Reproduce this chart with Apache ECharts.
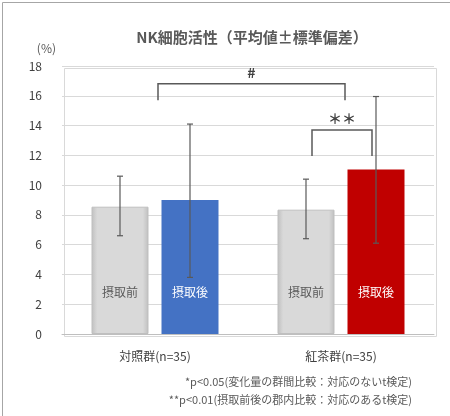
<!DOCTYPE html>
<html><head><meta charset="utf-8">
<script src="https://cdn.jsdelivr.net/npm/echarts@6/dist/echarts.min.js"></script>
<style>html,body{margin:0;padding:0;background:#fff}#c{width:450px;height:416px}</style>
</head><body><div id="c"></div>
<script>
const categories = ['対照群(n=35)', '紅茶群(n=35)'];
const beforeMean = [8.55, 8.35];
const afterMean = [9.0, 11.05];
const beforeLow = [6.6, 6.4], beforeHigh = [10.6, 10.4];
const afterLow = [3.8, 6.1], afterHigh = [14.1, 15.95];
const yTicks = [0, 2, 4, 6, 8, 10, 12, 14, 16, 18];
const afterColors = ['#4472c4', '#c00000'];
const F = '"Noto Sans CJK JP", "Noto Sans", sans-serif';

const chart = echarts.init(document.getElementById('c'));
const barW = 57, gapPx = 13, off = (barW + gapPx) / 2;

function errItem(dir) {
  return function (params, api) {
    const i = api.value(0);
    const lo = api.coord([i, api.value(1)]);
    const hi = api.coord([i, api.value(2)]);
    const x = lo[0] + dir * off;
    const st = { stroke: '#595959', lineWidth: 1.2 };
    return { type: 'group', children: [
      { type: 'line', shape: { x1: x, y1: lo[1], x2: x, y2: hi[1] }, style: st },
      { type: 'line', shape: { x1: x - 3, y1: hi[1], x2: x + 3, y2: hi[1] }, style: st },
      { type: 'line', shape: { x1: x - 3, y1: lo[1], x2: x + 3, y2: lo[1] }, style: st }
    ]};
  };
}
const grayBar = new echarts.graphic.LinearGradient(0, 0, 1, 0, [
  { offset: 0, color: '#bfbfbf' }, { offset: 0.1, color: '#d9d9d9' }, { offset: 0.9, color: '#d9d9d9' }, { offset: 1, color: '#bfbfbf' }]);

chart.setOption({
  animation: false,
  title: { text: 'NK細胞活性（平均値±標準偏差）', left: 247, top: 25, textAlign: 'center',
    textStyle: { fontFamily: F, fontSize: 15, fontWeight: 'bold', color: '#595959' } },
  grid: { left: 62, right: 16, top: 66, bottom: 82 },
  xAxis: { type: 'category', data: categories,
    axisLine: { lineStyle: { color: '#bfbfbf' } }, axisTick: { show: false },
    axisLabel: { fontFamily: F, fontSize: 12, color: '#404040', margin: 16 } },
  yAxis: { type: 'value', min: 0, max: 18, interval: 2,
    name: '(%)', nameLocation: 'end', nameGap: 12, nameTextStyle: { fontFamily: F, fontSize: 12, color: '#595959', align: 'right', padding: [0, 6, 0, 0] },
    axisLabel: { fontFamily: F, fontSize: 12, color: '#404040', margin: 20 },
    axisLine: { show: false }, axisTick: { show: false },
    splitLine: { lineStyle: { color: '#d9d9d9' } } },
  series: [
    { type: 'bar', barWidth: barW, barGap: (gapPx / barW * 100) + '%',
      data: beforeMean.map(v => ({ value: v, itemStyle: { color: grayBar, borderColor: '#bfbfbf', borderWidth: 1 } })),
      label: { show: true, position: 'insideBottom', distance: 36, formatter: '摂取前', fontFamily: F, fontSize: 12, color: '#595959' } },
    { type: 'bar', barWidth: barW,
      data: afterMean.map((v, i) => ({ value: v, itemStyle: { color: afterColors[i] } })),
      label: { show: true, position: 'insideBottom', distance: 36, formatter: '摂取後', fontFamily: F, fontSize: 12, color: '#fff' } },
    { type: 'custom', renderItem: errItem(-1), data: categories.map((c, i) => [i, beforeLow[i], beforeHigh[i]]), z: 10 },
    { type: 'custom', renderItem: errItem(1), data: categories.map((c, i) => [i, afterLow[i], afterHigh[i]]), z: 10 },
    { type: 'custom', z: 10, data: [[0, 16.8, 15.7, '#'], [1, 13.7, 11.95, '＊＊']],
      renderItem: function (params, api) {
        let xa, xb;
        const c0 = api.coord([0, 0])[0], c1 = api.coord([1, 0])[0];
        if (params.dataIndex === 0) { xa = c0 + 3; xb = c1 + 4; }
        else { xa = c1 - 29; xb = c1 + 31; }
        const yTop = api.coord([0, api.value(1)])[1];
        const yBot = api.coord([0, api.value(2)])[1];
        const st = { stroke: '#595959', lineWidth: 1.5, fill: null };
        return { type: 'group', children: [
          { type: 'polyline', shape: { points: [[xa, yBot], [xa, yTop], [xb, yTop], [xb, yBot]] }, style: st },
          { type: 'text', x: (xa + xb) / 2, y: yTop - 4, style: { text: api.value(3), fontFamily: F, fontSize: 14, fontWeight: 'bold', fill: '#404040', align: 'center', verticalAlign: 'bottom' } }
        ]};
      } }
  ],
  graphic: [
    { type: 'rect', left: 0, top: 0, shape: { width: 449, height: 415 }, style: { fill: null, stroke: '#a6a6a6', lineWidth: 1 }, silent: true },
    { type: 'rect', left: 62, top: 66, shape: { width: 372, height: 268 }, style: { fill: null, stroke: '#d9d9d9' }, silent: true },
    { type: 'text', right: 38, top: 376, style: { text: '*p<0.05(変化量の群間比較：対応のないt検定)', fontFamily: F, fontSize: 11, fill: '#595959' } },
    { type: 'text', right: 38, top: 394, style: { text: '**p<0.01(摂取前後の郡内比較：対応のあるt検定)', fontFamily: F, fontSize: 11, fill: '#595959' } }
  ]
});
</script></body></html>
